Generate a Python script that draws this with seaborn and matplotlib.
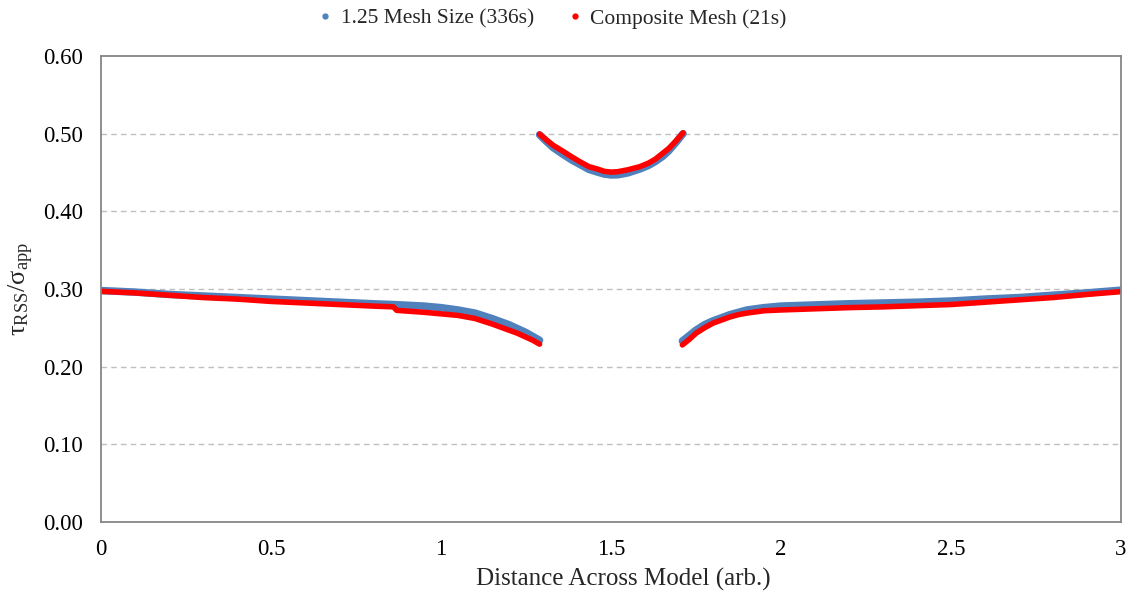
import numpy as np
import pandas as pd
import seaborn as sns
import matplotlib
matplotlib.use("Agg")
import matplotlib.pyplot as plt
from matplotlib.lines import Line2D

# ---- data: resolved shear stress ratio along the model ----
series_names = ["1.25 Mesh Size (336s)", "Composite Mesh (21s)"]

x_left = [0.0, 0.1, 0.2, 0.3, 0.4, 0.5, 0.6, 0.7, 0.8, 0.86, 0.87, 0.95,
          1.0, 1.05, 1.1, 1.15, 1.2, 1.225, 1.25, 1.27, 1.29]
fine_left = [0.298, 0.296, 0.293, 0.291, 0.289, 0.287, 0.285, 0.283, 0.281,
             0.280, 0.2798, 0.278, 0.276, 0.273, 0.269, 0.262, 0.254, 0.249,
             0.244, 0.239, 0.234]
comp_left = [0.297, 0.295, 0.292, 0.289, 0.287, 0.284, 0.282, 0.280, 0.278,
             0.277, 0.2725, 0.270, 0.268, 0.266, 0.262, 0.255, 0.247, 0.243,
             0.238, 0.234, 0.229]

x_mid = [1.29, 1.31, 1.33, 1.36, 1.385, 1.41, 1.435, 1.46, 1.48, 1.5, 1.52,
         1.55, 1.585, 1.61, 1.63, 1.653, 1.67, 1.69, 1.712]
fine_mid = [0.4985, 0.490, 0.482, 0.473, 0.466, 0.460, 0.454, 0.4505, 0.448,
            0.4468, 0.447, 0.4495, 0.4545, 0.459, 0.464, 0.471, 0.478, 0.488, 0.500]
comp_mid = [0.4995, 0.492, 0.485, 0.477, 0.470, 0.4635, 0.4575, 0.4545, 0.4515,
            0.4505, 0.451, 0.4535, 0.4575, 0.462, 0.467, 0.475, 0.481, 0.490, 0.501]

x_right = [1.71, 1.73, 1.75, 1.775, 1.8, 1.825, 1.85, 1.875, 1.9, 1.95, 2.0,
           2.1, 2.2, 2.3, 2.4, 2.5, 2.6, 2.7, 2.8, 2.9, 3.0]
fine_right = [0.233, 0.240, 0.247, 0.254, 0.259, 0.263, 0.267, 0.270, 0.273,
              0.276, 0.278, 0.2795, 0.281, 0.282, 0.283, 0.2845, 0.287, 0.289,
              0.292, 0.295, 0.2985]
comp_right = [0.228, 0.235, 0.243, 0.250, 0.256, 0.260, 0.264, 0.267, 0.269,
              0.272, 0.273, 0.2745, 0.276, 0.277, 0.2785, 0.280, 0.283, 0.286,
              0.289, 0.293, 0.2966]

y_ticks = [0.0, 0.1, 0.2, 0.3, 0.4, 0.5, 0.6]
x_ticks = [0, 0.5, 1, 1.5, 2, 2.5, 3]
x_tick_labels = ["0", "0.5", "1", "1.5", "2", "2.5", "3"]

# ---- tidy frame ----
rows = []
for seg, xs, f, c in [("left", x_left, fine_left, comp_left),
                      ("mid", x_mid, fine_mid, comp_mid),
                      ("right", x_right, fine_right, comp_right)]:
    for xv, fv, cv in zip(xs, f, c):
        rows.append((series_names[0], seg, xv, fv))
        rows.append((series_names[1], seg, xv, cv))
df = pd.DataFrame(rows, columns=["series", "segment", "x", "ratio"])

# ---- style ----
sns.set_style("white")
plt.rcParams["font.family"] = ["Liberation Serif", "DejaVu Serif"]
plt.rcParams["mathtext.fontset"] = "custom"
plt.rcParams["mathtext.rm"] = "Liberation Serif"
plt.rcParams["mathtext.it"] = "Liberation Serif:italic"
plt.rcParams["mathtext.default"] = "rm"

blue = "#4F81BD"
red = "#FF0000"
palette = {series_names[0]: blue, series_names[1]: red}
widths = {series_names[0]: 5.4, series_names[1]: 4.0}

fig = plt.figure(figsize=(11.37, 6.0), dpi=100)
ax = fig.add_axes([0.0888, 0.13, 0.8971, 0.7767])

for name in series_names:
    sub = df[df["series"] == name]
    sns.lineplot(data=sub, x="x", y="ratio", units="segment", estimator=None,
                 color=palette[name], linewidth=widths[name], ax=ax,
                 solid_capstyle="round", solid_joinstyle="round",
                 sort=False, legend=False)

ax.set_xlim(0, 3)
ax.set_ylim(0, 0.6)
ax.set_xticks(x_ticks)
ax.set_xticklabels(x_tick_labels)
ax.set_yticks(y_ticks)
ax.set_yticklabels([f"{v:.2f}" for v in y_ticks])
ax.tick_params(axis="both", length=0, labelsize=16.5, colors="black")
ax.tick_params(axis="y", pad=13)
ax.tick_params(axis="x", pad=12)

for v in y_ticks[1:-1]:
    ax.axhline(v, color="#BFBFBF", linestyle=(0, (4, 3)), linewidth=1.0, zorder=0)

for side in ["left", "right", "top", "bottom"]:
    ax.spines[side].set_visible(True)
    ax.spines[side].set_color("#868686")
    ax.spines[side].set_linewidth(1.3)

ax.set_xlabel("Distance Across Model (arb.)", fontsize=18, labelpad=6)
ax.xaxis.label.set_x(0.512)
ax.set_ylabel(r"$\tau_{\rm RSS}/\sigma_{\rm app}$", fontsize=19, labelpad=5)

handles = [Line2D([], [], linestyle="none", marker="o", markersize=3.5,
                  markerfacecolor=palette[n], markeredgecolor=palette[n])
           for n in series_names]
fig.legend(handles, series_names, loc="upper center", bbox_to_anchor=(0.486, 1.018),
           ncol=2, frameon=False, fontsize=15.5, handlelength=0.6,
           handletextpad=0.4, columnspacing=1.6)

fig.savefig("out.png", dpi=100)
